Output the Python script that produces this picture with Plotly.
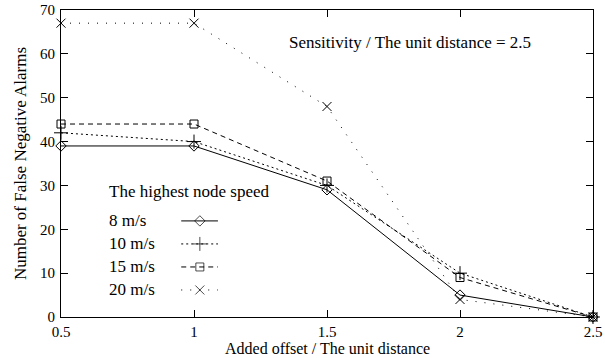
import plotly.graph_objects as go

# ---- data ----
x_offset = [0.5, 1, 1.5, 2, 2.5]
series_names = ["8 m/s", "10 m/s", "15 m/s", "20 m/s"]
alarms_8 = [39, 39, 29, 5, 0]
alarms_10 = [42, 40, 30, 10, 0]
alarms_15 = [44, 44, 31, 9, 0]
alarms_20 = [67, 67, 48, 4, 0]
x_ticks = [0.5, 1, 1.5, 2, 2.5]
x_tick_labels = ["0.5", "1", "1.5", "2", "2.5"]
y_ticks = [0, 10, 20, 30, 40, 50, 60, 70]

series_values = [alarms_8, alarms_10, alarms_15, alarms_20]
dashes = ["solid", "2px,3px", "5px,4px", "1px,8px"]
symbols = ["diamond-open", "cross-thin-open", "square-open", "x-thin-open"]
msizes = [8, 10, 8, 9]

FONT = "Liberation Serif, Times New Roman, serif"
fig = go.Figure()

for name, vals, d, s, ms in zip(series_names, series_values, dashes, symbols, msizes):
    fig.add_trace(go.Scatter(
        x=x_offset, y=vals, mode="lines+markers", name=name,
        line=dict(color="black", width=1, dash=d),
        marker=dict(symbol=s, size=ms, color="black", line=dict(color="black", width=1)),
        showlegend=False, cliponaxis=False))

# legend samples on an overlay axis (fraction of plot area)
leg_y = [0.313, 0.238, 0.163, 0.088]
for name, d, s, ms, ly in zip(series_names, dashes, symbols, msizes, leg_y):
    fig.add_trace(go.Scatter(
        x=[0.226, 0.261, 0.295], y=[ly, ly, ly], mode="lines+markers",
        line=dict(color="black", width=1, dash=d),
        marker=dict(symbol=s, size=[0, ms, 0], color="black", line=dict(color="black", width=1)),
        xaxis="x2", yaxis="y2", showlegend=False, hoverinfo="skip"))
    fig.add_annotation(x=0.086, y=ly, xref="x2", yref="y2", text=name, showarrow=False,
                       xanchor="left", yanchor="middle", font=dict(family=FONT, size=17, color="black"))

fig.add_annotation(x=0.086, y=0.41, xref="x2", yref="y2", text="The highest node speed",
                   showarrow=False, xanchor="left", yanchor="middle",
                   font=dict(family=FONT, size=17, color="black"))
fig.add_annotation(x=0.656, y=0.895, xref="x2", yref="y2", text="Sensitivity / The unit distance = 2.5",
                   showarrow=False, xanchor="center", yanchor="middle",
                   font=dict(family=FONT, size=17, color="black"))
# x-axis title as annotation pinned to bottom edge
fig.add_annotation(x=0.5, y=0, xref="x2 domain", yref="paper", yshift=-41,
                   text="Added offset / The unit distance", showarrow=False,
                   xanchor="center", yanchor="bottom", borderpad=0,
                   font=dict(family=FONT, size=16, color="black"))

axis_common = dict(showline=True, linecolor="black", linewidth=1, mirror="allticks",
                   ticks="inside", ticklen=7, tickcolor="black", showgrid=False, zeroline=False,
                   automargin=False,
                   tickfont=dict(family=FONT, size=15, color="black"))

fig.update_layout(
    width=605, height=358,
    margin=dict(l=61, r=12, t=10, b=41, autoexpand=False),
    paper_bgcolor="white", plot_bgcolor="white",
    font=dict(family=FONT, size=15, color="black"),
    xaxis=dict(range=[0.5, 2.5], tickvals=x_ticks, ticktext=x_tick_labels, ticklabelstandoff=1,
               **axis_common),
    yaxis=dict(range=[0, 70], tickvals=y_ticks, ticklabelstandoff=2,
               title=dict(text="Number of False Negative Alarms", standoff=9,
                          font=dict(family=FONT, size=17)), **axis_common),
    xaxis2=dict(range=[0, 1], overlaying="x", visible=False, anchor="y2"),
    yaxis2=dict(range=[0, 1], overlaying="y", visible=False, anchor="x2"),
)

fig.write_html("out.html")
